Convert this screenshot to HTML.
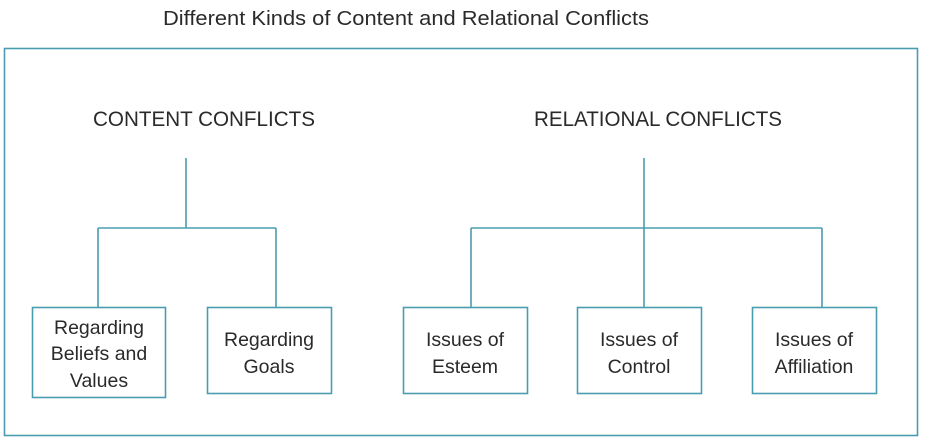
<!DOCTYPE html>
<html><head><style>
body{margin:0;width:928px;height:444px;background:#fff;overflow:hidden;font-family:"Liberation Sans",sans-serif;color:#2a2a2a}
</style></head><body>
<svg width="928" height="444" xmlns="http://www.w3.org/2000/svg" style="position:absolute;left:0;top:0">
<g stroke="#4a9db0" stroke-width="1.6" fill="none">
<rect x="4.5" y="48.5" width="913" height="387"/>
<line x1="186" y1="158" x2="186" y2="228"/>
<line x1="98" y1="228" x2="276" y2="228"/>
<line x1="98" y1="228" x2="98" y2="307"/>
<line x1="276" y1="228" x2="276" y2="307"/>
<line x1="644" y1="158" x2="644" y2="307"/>
<line x1="471" y1="228" x2="822" y2="228"/>
<line x1="471" y1="228" x2="471" y2="307"/>
<line x1="822" y1="228" x2="822" y2="307"/>
<rect x="32.5" y="307.5" width="133" height="90"/>
<rect x="207.5" y="307.5" width="124" height="86"/>
<rect x="403.5" y="307.5" width="124" height="86"/>
<rect x="577.5" y="307.5" width="124" height="86"/>
<rect x="752.5" y="307.5" width="124" height="86"/>
</g>
<g font-family="Liberation Sans, sans-serif" fill="#2a2a2a" text-anchor="middle">
<text x="406" y="25" font-size="20" textLength="486" lengthAdjust="spacingAndGlyphs">Different Kinds of Content and Relational Conflicts</text>
<text x="204" y="126" font-size="21" textLength="222" lengthAdjust="spacingAndGlyphs">CONTENT CONFLICTS</text>
<text x="658" y="126" font-size="21" textLength="248" lengthAdjust="spacingAndGlyphs">RELATIONAL CONFLICTS</text>
<g font-size="19.5">
<text x="99" y="334">Regarding</text>
<text x="99" y="360">Beliefs and</text>
<text x="99" y="387">Values</text>
<text x="269" y="346">Regarding</text>
<text x="269" y="373">Goals</text>
<text x="465" y="346">Issues of</text>
<text x="465" y="373">Esteem</text>
<text x="639" y="346">Issues of</text>
<text x="639" y="373">Control</text>
<text x="814" y="346">Issues of</text>
<text x="814" y="373">Affiliation</text>
</g></g>
</svg>
</body></html>
